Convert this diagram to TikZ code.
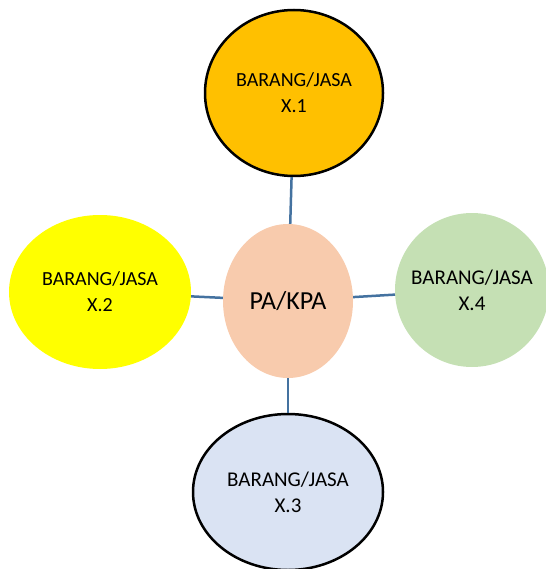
\documentclass[tikz,border=0pt]{standalone}
\usepackage{fontspec}
\setmainfont{Carlito}
\usetikzlibrary{shapes.geometric}
\usepackage{xcolor}
\definecolor{spokeblue}{RGB}{68,114,160}
\definecolor{xorange}{RGB}{255,192,0}
\definecolor{xyellow}{RGB}{255,255,0}
\definecolor{xgreen}{RGB}{197,224,180}
\definecolor{xblue}{RGB}{218,227,243}
\definecolor{xpeach}{RGB}{248,203,173}
\begin{document}
\begin{tikzpicture}[x=1pt, y=-1pt,
 item/.style={ellipse, inner sep=0, align=center, font=\fontsize{20}{26}\selectfont},
 spoke/.style={spokeblue, line width=2.5pt}]
\useasboundingbox (0,0) rectangle (545,569);
\node[item, fill=xpeach, minimum width=130, minimum height=154, font=\fontsize{26}{30}\selectfont] (pa) at (288,301) {PA/KPA};
\node[item, fill=xorange, draw=black, line width=2.5pt, minimum width=178, minimum height=166] (x1) at (294,93) {BARANG/JASA\\X.1};
\node[item, fill=xyellow, minimum width=182, minimum height=154] (x2) at (100,292) {BARANG/JASA\\X.2};
\node[item, fill=xblue, draw=black, line width=2.5pt, minimum width=190, minimum height=156, font=\fontsize{21}{26}\selectfont] (x3) at (288,492) {BARANG/JASA\\X.3};
\node[item, fill=xgreen, minimum width=154, minimum height=154,
 label={[align=center, font=\fontsize{21}{26}\selectfont]center:BARANG/JASA\\X.4}] (x4) at (472,290) {};
\foreach \n in {x1,x2,x3,x4} {
 \draw[spoke] (pa) -- (\n);
}
\end{tikzpicture}
\end{document}
